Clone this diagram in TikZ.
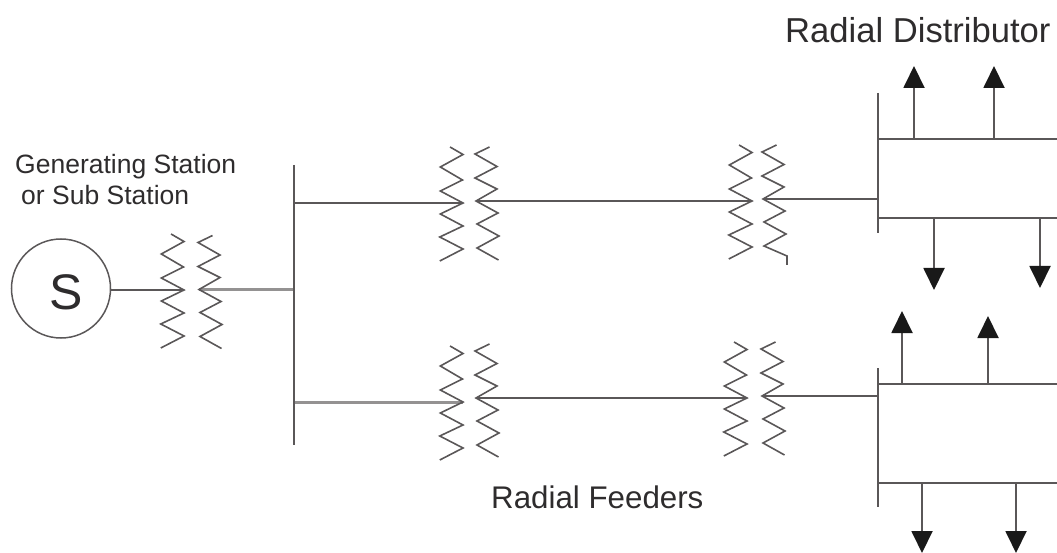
\documentclass[tikz,border=0pt]{standalone}
\usepackage{fontspec}
\setmainfont{Liberation Sans}
\usetikzlibrary{arrows.meta}
\definecolor{ln}{HTML}{5A5758}
\definecolor{txt}{HTML}{2E2C2D}
\tikzset{
  wire/.style={draw=ln,line width=1.8pt},
  fatwire/.style={draw=ln!65,line width=3pt},
  coilline/.style={draw=ln,line width=1.6pt,line join=miter},
  bus/.style={draw=ln,line width=1.9pt},
  load/.style={draw=ln,line width=1.9pt,-{Triangle[length=22pt,width=21pt,color=black!90]}},
  lbl/.style={anchor=base west,inner sep=0pt,text=txt},
  gen/.style={circle,draw=ln,line width=1.5pt,minimum size=99pt,inner sep=0pt}
}
\newcommand{\leftcoil}[1]{\draw[coilline,shift={(#1)},xscale=1.08] (-12,-56)--(0,-48.5)--(-21,-36)--(-0.5,-23)--(-21,-12)--(0,0)--(-21,11)--(0,23)--(-21.5,34)--(0,46)--(-21.5,58);}
\newcommand{\rightcoil}[1]{\draw[coilline,shift={(#1)}] (13.5,-54)--(-1,-47)--(21,-34.5)--(-1,-23)--(21,-12)--(0,0)--(22,12)--(1,23)--(23,35)--(1,47)--(22.5,59);}
\begin{document}
\begin{tikzpicture}[x=1pt,y=-1pt]
\useasboundingbox (0,0) rectangle (1057,553);
% named points
\node[gen] (S) at (61,288.5) {};
\node[lbl,font=\fontsize{50}{50}\selectfont] (Slabel) at (49,309.5) {S};
\coordinate (t1l) at (184,290);
\coordinate (t1r) at (199,289.5);
\coordinate (t2l) at (463,203);
\coordinate (t2r) at (476,201);
\coordinate (t3l) at (752,201);
\coordinate (t3r) at (763,199);
\coordinate (t4l) at (463,402);
\coordinate (t4r) at (476,398);
\coordinate (t5l) at (747,398);
\coordinate (t5r) at (762,396);
\coordinate (mt) at (294,165);
\coordinate (mb) at (294,445);
\coordinate (m0) at (294,289.5);
\coordinate (m1) at (294,203);
\coordinate (m2) at (294,402);
\coordinate (b1t) at (878,93);
\coordinate (b1b) at (878,233);
\coordinate (b1f) at (878,199);
\coordinate (b2t) at (878,368);
\coordinate (b2b) at (878,507);
\coordinate (b2f) at (878,396);
\coordinate (d1a) at (878,139);
\coordinate (d1ae) at (1057,139);
\coordinate (d1b) at (878,218);
\coordinate (d1be) at (1057,218);
\coordinate (d2a) at (878,384);
\coordinate (d2ae) at (1057,384);
\coordinate (d2b) at (878,483);
\coordinate (d2be) at (1057,483);
% wires
\draw[wire] (S.east |- t1l)--(t1l);
\draw[fatwire] (t1r)--(m0);
\draw[wire] (m1)--(t2l);
\draw[fatwire] (m2)--(t4l);
\draw[wire] (t2r)--(t3l);
\draw[wire] (t4r)--(t5l);
\draw[wire] (t3r)--(b1f);
\draw[wire] (t5r)--(b2f);
% coils
\leftcoil{t1l}\rightcoil{t1r}
\leftcoil{t2l}\rightcoil{t2r}
\leftcoil{t3l}
\draw[coilline,shift={(t3r)}] (13.5,-54)--(-1,-47)--(21,-34.5)--(-1,-23)--(21,-12)--(0,0)--(22,12)--(1,23)--(23,35)--(1,47)--(24,57)--(24,66);
\leftcoil{t4l}\rightcoil{t4r}
\leftcoil{t5l}\rightcoil{t5r}
% buses
\draw[bus] (mt)--(mb);
\draw[bus] (b1t)--(b1b);
\draw[bus] (b2t)--(b2b);
\draw[wire] (d1a)--(d1ae);
\draw[wire] (d1b)--(d1be);
\draw[wire] (d2a)--(d2ae);
\draw[wire] (d2b)--(d2be);
% loads
\coordinate (a1) at (914,139); \coordinate (a1e) at (914,66);
\coordinate (a2) at (994,139); \coordinate (a2e) at (994,66);
\coordinate (a3) at (934,218); \coordinate (a3e) at (934,290);
\coordinate (a4) at (1040,218); \coordinate (a4e) at (1040,288);
\coordinate (a5) at (902,384); \coordinate (a5e) at (902,311);
\coordinate (a6) at (988,384); \coordinate (a6e) at (988,316);
\coordinate (a7) at (922,483); \coordinate (a7e) at (922,553);
\coordinate (a8) at (1016,483); \coordinate (a8e) at (1016,553);
\foreach \i in {1,...,8} \draw[load] (a\i)--(a\i e);
% labels
\node[lbl,font=\fontsize{34.6}{34.6}\selectfont] (rd) at (785,43) {Radial Distributor};
\node[lbl,font=\fontsize{26.5}{26.5}\selectfont] (gs) at (15,173.5) {Generating Station};
\node[lbl,font=\fontsize{26.5}{26.5}\selectfont] (ss) at (21,204.5) {or Sub Station};
\node[lbl,font=\fontsize{31.3}{31.3}\selectfont] (rf) at (491,508) {Radial Feeders};
\end{tikzpicture}
\end{document}
